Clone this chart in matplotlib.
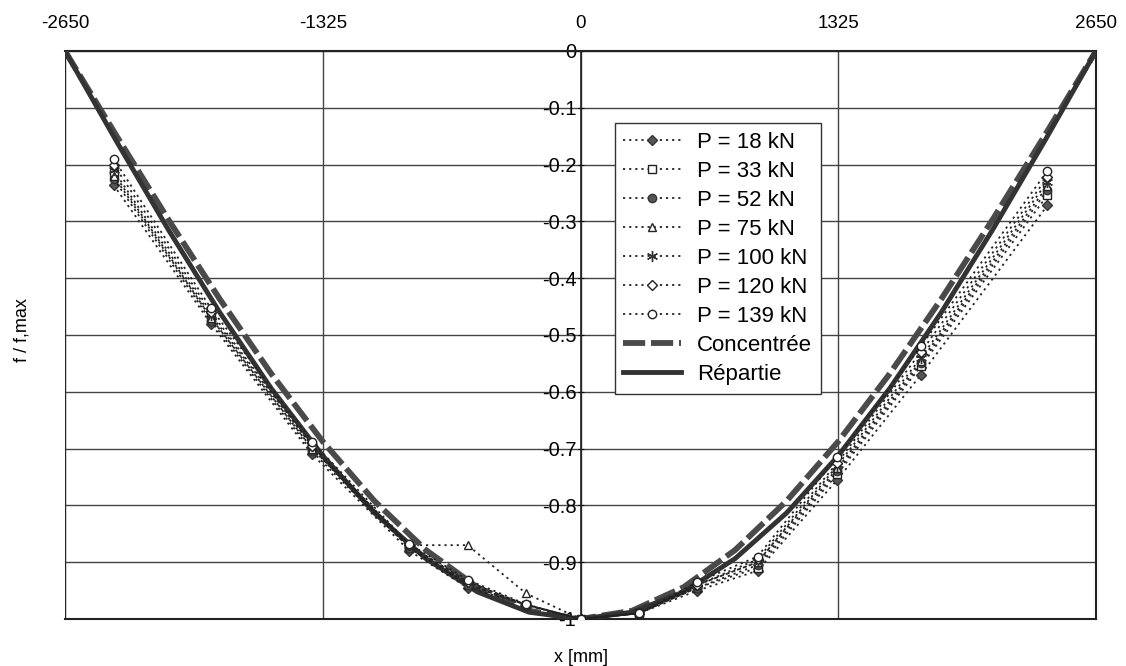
import matplotlib
matplotlib.use("Agg")
import matplotlib.pyplot as plt
import numpy as np

plt.rcParams['font.family'] = ['Liberation Sans', 'DejaVu Sans']
plt.rcParams['axes.unicode_minus'] = False

# Measurement positions [mm]
x_meas = [-2400, -1900, -1380, -880, -580, -280, 0, 300, 600, 910, 1320, 1750, 2400]

p18 = [-0.236, -0.480, -0.710, -0.880, -0.945, -0.975, -1.0, -0.990, -0.950, -0.915, -0.755, -0.570, -0.272]
p33 = [-0.215, -0.470, -0.700, -0.875, -0.940, -0.975, -1.0, -0.990, -0.945, -0.910, -0.745, -0.555, -0.254]
p52 = [-0.225, -0.475, -0.705, -0.875, -0.940, -0.975, -1.0, -0.990, -0.945, -0.905, -0.740, -0.550, -0.245]
p75 = [-0.220, -0.470, -0.700, -0.870, -0.870, -0.955, -1.0, -0.990, -0.940, -0.900, -0.735, -0.545, -0.238]
p100 = [-0.210, -0.465, -0.695, -0.870, -0.935, -0.975, -1.0, -0.990, -0.940, -0.900, -0.730, -0.540, -0.230]
p120 = [-0.200, -0.460, -0.695, -0.870, -0.935, -0.975, -1.0, -0.990, -0.940, -0.895, -0.725, -0.530, -0.222]
p139 = [-0.190, -0.453, -0.688, -0.868, -0.931, -0.974, -1.0, -0.990, -0.935, -0.890, -0.715, -0.520, -0.211]

series_labels = ["P = 18 kN", "P = 33 kN", "P = 52 kN", "P = 75 kN",
                 "P = 100 kN", "P = 120 kN", "P = 139 kN"]

# Theoretical curves (read along the span)
x_theo = [-2650, -2385, -2120, -1855, -1590, -1325, -1060, -795, -530, -265, 0,
          265, 530, 795, 1060, 1325, 1590, 1855, 2120, 2385, 2650]
concentree = [0, -0.1495, -0.296, -0.4365, -0.568, -0.6875, -0.792, -0.8785, -0.944, -0.9855, -1.0,
              -0.9855, -0.944, -0.8785, -0.792, -0.6875, -0.568, -0.4365, -0.296, -0.1495, 0]
repartie = [0, -0.1592, -0.3139, -0.4600, -0.5939, -0.7125, -0.8131, -0.8936, -0.9523, -0.9880, -1.0,
            -0.9880, -0.9523, -0.8936, -0.8131, -0.7125, -0.5939, -0.4600, -0.3139, -0.1592, 0]

x_ticks = [-2650, -1325, 0, 1325, 2650]
y_ticks = [0, -0.1, -0.2, -0.3, -0.4, -0.5, -0.6, -0.7, -0.8, -0.9, -1]

fig = plt.figure(figsize=(11.26, 6.66), dpi=100)
ax = fig.add_axes([65/1126, 1-619/666, 1031/1126, 568/666])

styles = [
    dict(marker='D', ms=5, mfc='#555555', mec='#333333'),
    dict(marker='s', ms=6, mfc='white', mec='#222222'),
    dict(marker='o', ms=6, mfc='#555555', mec='#333333'),
    dict(marker='^', ms=6, mfc='white', mec='#222222'),
    dict(marker=(6, 2, 0), ms=8, mfc='#333333', mec='#333333'),
    dict(marker='D', ms=5, mfc='white', mec='#222222'),
    dict(marker='o', ms=6, mfc='white', mec='#222222'),
]
handles = []
for vals, lab, st in zip([p18, p33, p52, p75, p100, p120, p139], series_labels, styles):
    h, = ax.plot(x_meas, vals, linestyle=(0, (1.2, 2.2)), color='#222222', lw=1.3,
                 label=lab, mew=1.0, zorder=4, **st)
    handles.append(h)

h1, = ax.plot(x_theo, concentree, color='#4a4a4a', lw=4.2, dashes=(3.8, 1.0),
              label="Concentrée", zorder=3, solid_capstyle='butt', dash_capstyle='butt')
h2, = ax.plot(x_theo, repartie, color='#333333', lw=3.5, label="Répartie", zorder=3)
handles += [h1, h2]

ax.set_xlim(-2650, 2650)
ax.set_ylim(-1, 0)
ax.xaxis.tick_top()
ax.set_xticks(x_ticks)
ax.set_xticklabels([str(t) for t in x_ticks])
ax.tick_params(axis='x', length=0, pad=14, labelsize=13.5)

ax.spines['left'].set_position(('data', 0))
ax.set_yticks(y_ticks)
ax.set_yticklabels(["0" if t == 0 else ("-1" if t == -1 else f"{t:.1f}") for t in y_ticks])
ax.tick_params(axis='y', length=4, pad=1, labelsize=14.5, direction='inout')
ax.axvline(-2650, color='#222222', lw=1.5, zorder=2)

for s in ['top', 'bottom', 'right']:
    ax.spines[s].set_color('#222222')
    ax.spines[s].set_linewidth(1.5)
ax.spines['left'].set_color('#222222')
ax.spines['left'].set_linewidth(1.2)

ax.grid(True, color='#444444', lw=1.0, zorder=1)
ax.set_axisbelow(True)

fig.text(581/1126, 1-657/666, "x [mm]", ha='center', va='center', fontsize=13)
fig.text(22/1126, 1-330/666, "f / f,max", ha='center', va='center', rotation=90, fontsize=13)

leg = ax.legend(handles=handles, loc='upper left', bbox_to_anchor=(0.533, 0.873),
                fontsize=16, frameon=True, fancybox=False, framealpha=1,
                edgecolor='#333333', handlelength=2.6, labelspacing=0.36,
                borderpad=0.4, handletextpad=0.7, borderaxespad=0)
leg.get_frame().set_linewidth(1.0)

fig.savefig("out.png", dpi=100)
